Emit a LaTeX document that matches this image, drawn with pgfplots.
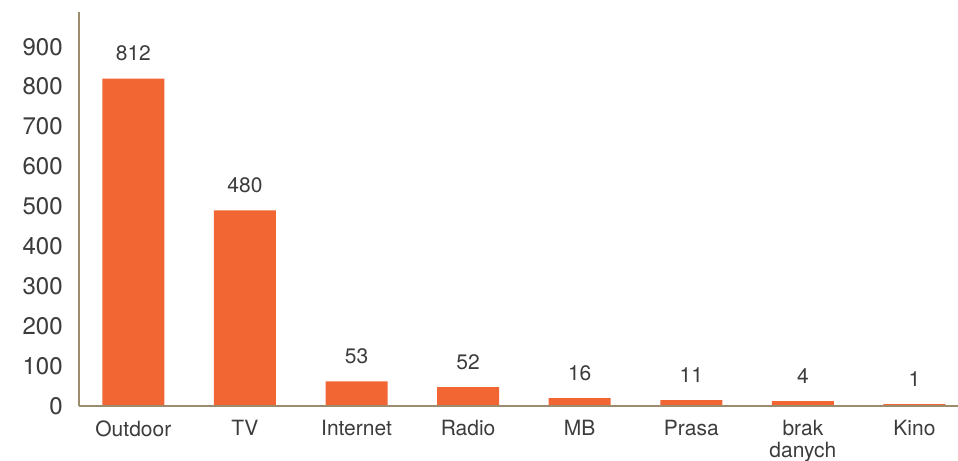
\documentclass[border=0pt]{standalone}
\usepackage{fontspec}
\setmainfont{TeX Gyre Heros}
\usepackage{pgfplots}
\pgfplotsset{compat=1.18}
\usepackage{pgfplotstable}
\definecolor{barc}{HTML}{F26633}
\definecolor{axc}{HTML}{9C8C6E}
\definecolor{txt}{HTML}{3C3C3C}
\pgfplotstableread{
x y lab
0 820 812
1 490 480
2 62 53
3 47 52
4 20 16
5 15 11
6 12 4
7 5 1
}\data
\begin{document}
\begin{tikzpicture}
\useasboundingbox (0,0) rectangle (479bp,-230.5bp);
\begin{axis}[
  at={(39.5bp,-203bp)}, anchor=south west,
  scale only axis, width=439.5bp, height=197bp,
  xmin=-0.487, xmax=7.39, ymin=0, ymax=987,
  enlargelimits=false,
  axis lines=left,
  axis line style={-, draw=axc, line width=0.75bp},
  axis on top,
  ytick={0,100,...,900},
  xtick={0,...,7},
  xticklabels={Outdoor,TV,Internet,Radio,MB,Prasa,{brak\\danych},Kino},
  major tick length=0pt,
  tick style={draw=none},
  /pgf/number format/assume math mode=true,
  yticklabel style={font=\fontsize{12bp}{14bp}\selectfont, text=txt, anchor=east, inner sep=0pt, xshift=-8bp},
  xticklabel style={font=\fontsize{10.5bp}{11bp}\selectfont, text=txt, anchor=north, inner sep=0pt, yshift=-7bp, align=center},
  ybar, bar width=31bp,
  nodes near coords, point meta=explicit symbolic,
  every node near coord/.append style={font=\fontsize{10.5bp}{12bp}\selectfont, text=txt, anchor=south, inner sep=0pt, yshift=8.5bp},
  clip=false,
]
\addplot[fill=barc, draw=none] table[x=x, y=y, meta=lab] {\data};
\end{axis}
\end{tikzpicture}
\end{document}
